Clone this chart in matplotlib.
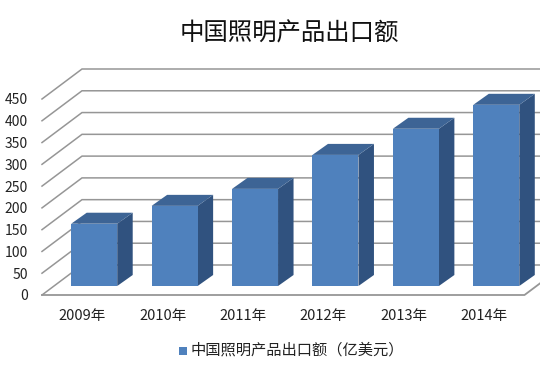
import matplotlib
matplotlib.use("Agg")
import matplotlib.pyplot as plt
from matplotlib.patches import Polygon, Rectangle

plt.rcParams['font.family'] = ['Noto Sans CJK SC', 'DejaVu Sans']

title = "中国照明产品出口额"
series_name = "中国照明产品出口额（亿美元）"
years = ["2009年", "2010年", "2011年", "2012年", "2013年", "2014年"]
values = [143, 184, 223, 301, 361, 416]
y_ticks = [0, 50, 100, 150, 200, 250, 300, 350, 400, 450]

W, H = 540, 366
FRONT = "#4f81bd"
TOP = "#3d6495"
SIDE = "#30527f"
GRID = "#969696"

fig = plt.figure(figsize=(W / 100, H / 100), dpi=100, facecolor="white")

# axes cover the front plane of the 3d box, x in categories, y in values
left, right, bottom, top = 42, 524.5, 295, 99
ax = fig.add_axes([left / W, 1 - bottom / H, (right - left) / W, (bottom - top) / H])
ax.set_xlim(0, len(years))
ax.set_ylim(0, 450)
ax.patch.set_visible(False)
for s in ax.spines.values():
    s.set_visible(False)
ax.tick_params(length=0)
ax.set_xticks([i + 0.5 for i in range(len(years))], years, fontsize=10.5, color="#222222")
ax.set_yticks(y_ticks, [str(t) for t in y_ticks], fontsize=10, color="#222222")
ax.tick_params(axis="x", pad=10)
ax.tick_params(axis="y", pad=10)

# depth of the box, in axis units
px_x = len(years) / (right - left)
px_y = 450 / (bottom - top)
dx, dy = 40 * px_x, 30 * px_y

for t in y_ticks:
    ax.plot([0, dx, len(years) + dx], [t, t + dy, t + dy], color=GRID, lw=1.1,
            clip_on=False, zorder=1, solid_joinstyle="miter")
ax.plot([0, len(years), len(years) + dx], [0, 0, dy], color=GRID, lw=1.3, clip_on=False, zorder=1)

bar_w = 46 * px_x
bx, by = 12 * px_x, 9 * px_y      # bar set back from the front edge
sx, sy = 15.5 * px_x, 11 * px_y   # bar's own depth
for i, v in enumerate(values):
    x0 = i + 0.5 - bar_w / 2 + bx
    x1 = x0 + bar_w
    y0 = by
    y1 = by + v
    ax.add_patch(Polygon([(x1, y0), (x1 + sx, y0 + sy), (x1 + sx, y1 + sy), (x1, y1)],
                         fc=SIDE, ec="none", clip_on=False, zorder=3))
    ax.add_patch(Polygon([(x0, y1), (x1, y1), (x1 + sx, y1 + sy), (x0 + sx, y1 + sy)],
                         fc=TOP, ec="none", clip_on=False, zorder=3))
    ax.add_patch(Rectangle((x0, y0), bar_w, v, fc=FRONT, ec="none", clip_on=False, zorder=4))

fig.text(289 / W, 1 - 33.5 / H, title, fontsize=17.6, ha="center", va="center", color="#111111")

# legend
fig.patches.append(Rectangle((179 / W, 1 - 355 / H), 8 / W, 8 / H, transform=fig.transFigure,
                             fc=FRONT, ec="none"))
fig.text(191 / W, 1 - 350 / H, series_name, fontsize=11, ha="left", va="center", color="#222222")

fig.savefig("out.png", dpi=100)
